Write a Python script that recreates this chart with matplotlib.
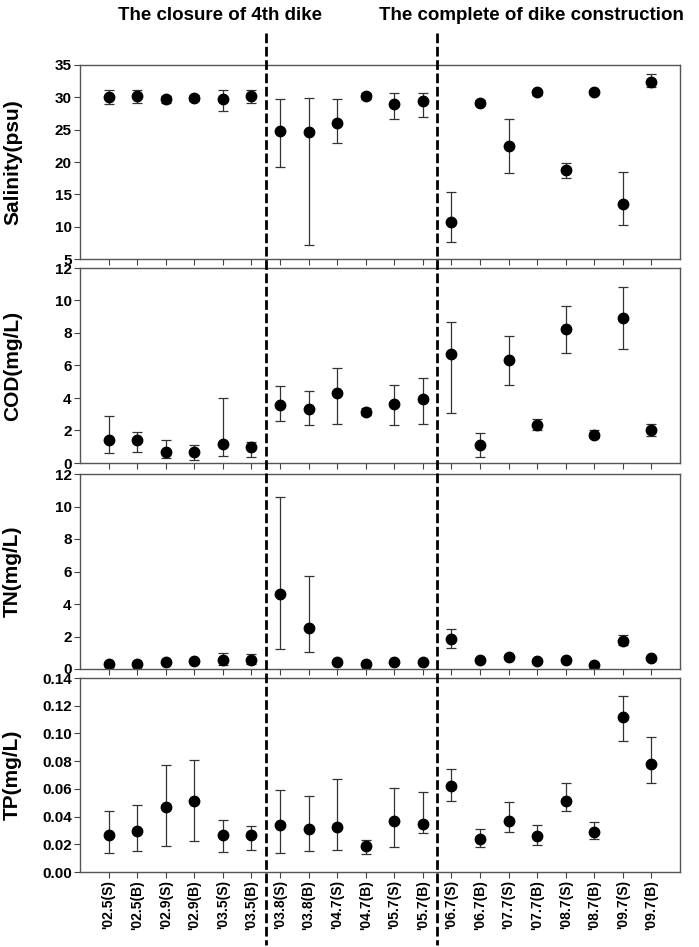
import matplotlib
matplotlib.use('Agg')
import matplotlib.pyplot as plt
import numpy as np
from matplotlib.lines import Line2D

plt.rcParams['font.family'] = ['Liberation Sans', 'DejaVu Sans']
plt.rcParams['font.weight'] = 'bold'

# categorias (fecha de muestreo, S = superficie, B = fondo)
categorias = ["'02.5(S)", "'02.5(B)", "'02.9(S)", "'02.9(B)", "'03.5(S)", "'03.5(B)",
              "'03.8(S)", "'03.8(B)", "'04.7(S)", "'04.7(B)", "'05.7(S)", "'05.7(B)",
              "'06.7(S)", "'06.7(B)", "'07.7(S)", "'07.7(B)", "'08.7(S)", "'08.7(B)",
              "'09.7(S)", "'09.7(B)"]

# salinidad: media, limite superior, limite inferior
sal_media = [30.1, 30.25, 29.7, 29.95, 29.75, 30.2, 24.85, 24.6, 26.1, 30.2,
             28.9, 29.4, 10.7, 29.2, 22.4, 30.8, 18.7, 30.8, 13.5, 32.4]
sal_sup = [31.2, 31.2, 30.25, 30.35, 31.1, 31.1, 29.8, 29.95, 29.8, 30.7,
           30.6, 30.7, 15.3, 29.6, 26.6, 31.2, 19.8, 31.1, 18.5, 33.6]
sal_inf = [28.9, 29.2, 29.1, 29.5, 27.9, 29.2, 19.2, 7.1, 23.0, 29.7,
           26.6, 26.9, 7.6, 28.8, 18.3, 30.4, 17.6, 30.5, 10.3, 31.6]

cod_media = [1.4, 1.4, 0.68, 0.66, 1.19, 0.99, 3.58, 3.31, 4.28, 3.15,
             3.62, 3.91, 6.73, 1.11, 6.34, 2.33, 8.27, 1.75, 8.91, 2.04]
cod_sup = [2.88, 1.9, 1.42, 1.13, 3.97, 1.3, 4.71, 4.42, 5.86, 3.37,
           4.79, 5.23, 8.7, 1.85, 7.84, 2.7, 9.67, 2.06, 10.84, 2.43]
cod_inf = [0.62, 0.7, 0.29, 0.21, 0.45, 0.39, 2.57, 2.35, 2.37, 2.94,
           2.35, 2.41, 3.09, 0.37, 4.77, 2.04, 6.79, 1.52, 7.04, 1.65]

tn_media = [0.33, 0.33, 0.45, 0.47, 0.55, 0.55, 4.61, 2.5, 0.41, 0.33,
            0.41, 0.41, 1.84, 0.53, 0.72, 0.49, 0.55, 0.23, 1.7, 0.68]
tn_sup = [0.4, 0.4, 0.52, 0.55, 0.98, 0.94, 10.57, 5.74, 0.5, 0.38,
          0.46, 0.46, 2.44, 0.6, 0.8, 0.55, 0.6, 0.27, 2.07, 0.74]
tn_inf = [0.27, 0.27, 0.38, 0.4, 0.27, 0.3, 1.23, 1.05, 0.33, 0.28,
          0.36, 0.36, 1.29, 0.46, 0.64, 0.43, 0.5, 0.19, 1.45, 0.62]

tp_media = [0.027, 0.0296, 0.0467, 0.0515, 0.027, 0.0267, 0.0342, 0.031, 0.0325, 0.019,
            0.0368, 0.0349, 0.0623, 0.0238, 0.0371, 0.0262, 0.051, 0.0291, 0.1119, 0.078]
tp_sup = [0.0439, 0.0484, 0.0773, 0.0809, 0.0378, 0.0332, 0.0592, 0.0549, 0.0672, 0.0229,
          0.0609, 0.058, 0.0746, 0.0313, 0.0505, 0.0337, 0.064, 0.0361, 0.127, 0.0975]
tp_inf = [0.0135, 0.0149, 0.019, 0.0221, 0.0144, 0.0156, 0.014, 0.0152, 0.0159, 0.013,
          0.018, 0.0282, 0.0513, 0.0183, 0.0286, 0.0195, 0.044, 0.0238, 0.0948, 0.0643]

paneles = [
    ('Salinity(psu)', sal_media, sal_sup, sal_inf, (5, 35), np.arange(5, 36, 5), '%d'),
    ('COD(mg/L)', cod_media, cod_sup, cod_inf, (0, 12), np.arange(0, 13, 2), '%d'),
    ('TN(mg/L)', tn_media, tn_sup, tn_inf, (0, 12), np.arange(0, 13, 2), '%d'),
    ('TP(mg/L)', tp_media, tp_sup, tp_inf, (0, 0.14), np.arange(0, 0.141, 0.02), '%.2f'),
]

W, H = 699, 947
fig = plt.figure(figsize=(W / 100, H / 100), dpi=100)

# posiciones de los paneles en pixeles (arriba, abajo)
limites = [(65, 259), (268, 463), (474, 669), (678, 872)]
x0, x1 = 80, 680
x = np.arange(len(categorias))

for i, (etiqueta, media, sup, inf, ylim, yticks, fmt) in enumerate(paneles):
    arriba, abajo = limites[i]
    ax = fig.add_axes([x0 / W, 1 - abajo / H, (x1 - x0) / W, (abajo - arriba) / H])
    media = np.array(media)
    yerr = [media - np.array(inf), np.array(sup) - media]
    ax.errorbar(x, media, yerr=yerr, fmt='o', color='black', ms=7.5,
                ecolor='#333333', elinewidth=0.9, capsize=3.5, capthick=0.9)
    ax.set_xlim(-1, len(categorias))
    ax.set_ylim(*ylim)
    ax.set_yticks(yticks)
    ax.set_yticklabels([fmt % v for v in yticks], fontsize=11, fontweight='bold')
    ax.set_xticks(x)
    if i == len(paneles) - 1:
        ax.set_xticklabels(categorias, rotation=90, fontsize=10, fontweight='bold')
    else:
        ax.set_xticklabels([])
    ax.tick_params(direction='out', length=4, width=0.8, color='#444444', pad=2)
    for s in ax.spines.values():
        s.set_color('#555555')
        s.set_linewidth(1.0)
    ax.set_ylabel(etiqueta, fontsize=15, fontweight='bold')
    ax.yaxis.set_label_coords(-58 / (x1 - x0), 0.5)

# lineas discontinuas que cruzan todos los paneles
for xv in [5.5, 11.5]:
    xp = x0 + (xv + 1) / (len(categorias) + 1) * (x1 - x0)
    fig.add_artist(Line2D([xp / W, xp / W], [1 - 33 / H, 1 - 945 / H],
                          transform=fig.transFigure, color='black', lw=2.0,
                          linestyle=(0, (3.5, 1.3))))

fig.text(220 / W, 1 - 16 / H, 'The closure of 4th dike', ha='center', va='center',
         fontsize=13.5, fontweight='bold')
fig.text(531 / W, 1 - 16 / H, 'The complete of dike construction', ha='center', va='center',
         fontsize=13.5, fontweight='bold')

fig.savefig('out.png', dpi=100)
